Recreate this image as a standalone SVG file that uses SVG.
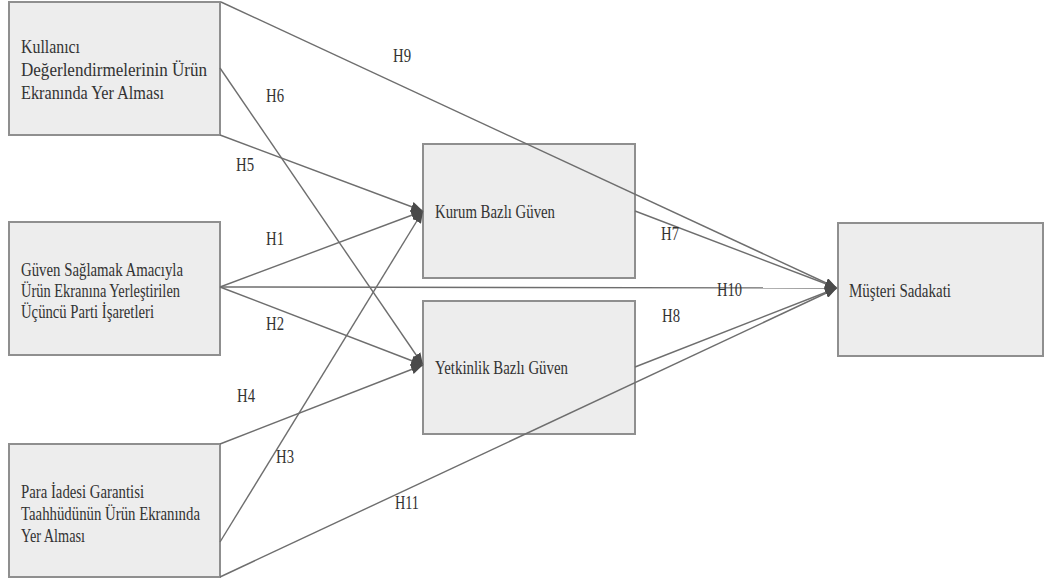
<svg xmlns="http://www.w3.org/2000/svg" width="1045" height="582" viewBox="0 0 1045 582">
<defs>
<marker id="arr" viewBox="0 0 12 10" refX="12" refY="5" markerWidth="12" markerHeight="10" markerUnits="userSpaceOnUse" orient="auto">
<path d="M0,0 L12,5 L0,10 Z" fill="#4a4a4a"/>
</marker>
<style>
.box{fill:#ededed;stroke:#8f8f8f;stroke-width:2}
.t{font-family:"Liberation Serif","Times New Roman",serif;font-size:18px;fill:#333}
.t19{font-size:19px}
.ln{stroke:#6e6e6e;stroke-width:1.4;fill:none}
.ar{marker-end:url(#arr)}
</style>
</defs>
<rect width="1045" height="582" fill="#fff"/>
<g id="node-kullanici">
<rect class="box" x="9" y="2" width="211" height="133"/>
<text class="t t19" x="21" y="53" textLength="59" lengthAdjust="spacingAndGlyphs">Kullanıcı</text>
<text class="t t19" x="21" y="76" textLength="186" lengthAdjust="spacingAndGlyphs">Değerlendirmelerinin Ürün</text>
<text class="t t19" x="21" y="99" textLength="143" lengthAdjust="spacingAndGlyphs">Ekranında Yer Alması</text>
</g>
<g id="node-ucuncu">
<rect class="box" x="9" y="222" width="211" height="133"/>
<text class="t" x="21" y="276" textLength="162" lengthAdjust="spacingAndGlyphs">Güven Sağlamak Amacıyla</text>
<text class="t" x="21" y="297" textLength="159" lengthAdjust="spacingAndGlyphs">Ürün Ekranına Yerleştirilen</text>
<text class="t" x="21" y="318" textLength="133" lengthAdjust="spacingAndGlyphs">Üçüncü Parti İşaretleri</text>
</g>
<g id="node-para">
<rect class="box" x="9" y="444" width="211" height="133"/>
<text class="t" x="21" y="498" textLength="123" lengthAdjust="spacingAndGlyphs">Para İadesi Garantisi</text>
<text class="t" x="21" y="520" textLength="179" lengthAdjust="spacingAndGlyphs">Taahhüdünün Ürün Ekranında</text>
<text class="t" x="21" y="542" textLength="64" lengthAdjust="spacingAndGlyphs">Yer Alması</text>
</g>
<g id="node-kurum">
<rect class="box" x="423" y="144" width="212" height="134"/>
<text class="t" x="435" y="218" textLength="120" lengthAdjust="spacingAndGlyphs">Kurum Bazlı Güven</text>
</g>
<g id="node-yetkinlik">
<rect class="box" x="423" y="301" width="212" height="133"/>
<text class="t" x="435" y="374" textLength="133" lengthAdjust="spacingAndGlyphs">Yetkinlik Bazlı Güven</text>
</g>
<g id="node-musteri">
<rect class="box" x="838" y="223" width="205" height="133"/>
<text class="t" x="849" y="297" textLength="102" lengthAdjust="spacingAndGlyphs">Müşteri Sadakati</text>
</g>
<g id="connectors">
<line class="ln ar" x1="221" y1="2" x2="837" y2="288"/>
<line class="ln ar" x1="220" y1="68" x2="423" y2="365"/>
<line class="ln ar" x1="220" y1="135" x2="423" y2="211"/>
<line class="ln ar" x1="220" y1="287" x2="423" y2="211"/>
<line class="ln ar" x1="220" y1="287" x2="837" y2="288"/>
<line class="ln ar" x1="220" y1="287" x2="423" y2="365"/>
<line class="ln ar" x1="220" y1="444" x2="423" y2="365"/>
<line class="ln ar" x1="220" y1="542" x2="423" y2="211"/>
<line class="ln ar" x1="220" y1="577" x2="837" y2="288"/>
<line class="ln ar" x1="635" y1="211" x2="837" y2="288"/>
<line class="ln ar" x1="635" y1="367" x2="837" y2="288"/>
</g>
<g id="labels">
<text class="t" x="393" y="62" textLength="18" lengthAdjust="spacingAndGlyphs">H9</text>
<text class="t" x="266" y="102" textLength="18" lengthAdjust="spacingAndGlyphs">H6</text>
<text class="t" x="236" y="171" textLength="18" lengthAdjust="spacingAndGlyphs">H5</text>
<text class="t" x="266" y="245" textLength="18" lengthAdjust="spacingAndGlyphs">H1</text>
<text class="t" x="266" y="330" textLength="18" lengthAdjust="spacingAndGlyphs">H2</text>
<text class="t" x="237" y="402" textLength="18" lengthAdjust="spacingAndGlyphs">H4</text>
<text class="t" x="276" y="463" textLength="18" lengthAdjust="spacingAndGlyphs">H3</text>
<text class="t" x="395" y="509" textLength="24" lengthAdjust="spacingAndGlyphs">H11</text>
<text class="t" x="661" y="240" textLength="18" lengthAdjust="spacingAndGlyphs">H7</text>
<text class="t" x="717" y="296" textLength="25" lengthAdjust="spacingAndGlyphs">H10</text>
<text class="t" x="662" y="322" textLength="18" lengthAdjust="spacingAndGlyphs">H8</text>
</g>
</svg>
